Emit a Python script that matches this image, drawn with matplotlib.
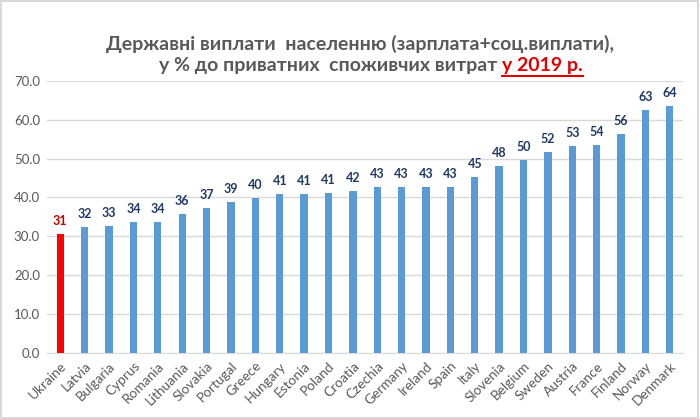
import matplotlib
matplotlib.use("Agg")
import matplotlib.pyplot as plt
from matplotlib.patches import Rectangle

plt.rcParams['font.family'] = ['Lato', 'DejaVu Sans']

countries = ["Ukraine", "Latvia", "Bulgaria", "Cyprus", "Romania", "Lithuania",
             "Slovakia", "Portugal", "Greece", "Hungary", "Estonia", "Poland",
             "Croatia", "Czechia", "Germany", "Ireland", "Spain", "Italy",
             "Slovenia", "Belgium", "Sweden", "Austria", "France", "Finland",
             "Norway", "Denmark"]
values = [30.6, 32.3, 32.6, 33.6, 33.6, 35.8, 37.3, 38.9, 39.9, 40.8, 40.8, 41.2,
          41.6, 42.6, 42.6, 42.6, 42.8, 45.2, 48.0, 49.7, 51.7, 53.3, 53.5, 56.3,
          62.6, 63.6]
yticks = [0, 10, 20, 30, 40, 50, 60, 70]

fig = plt.figure(figsize=(7, 4.19), dpi=100)
ax = fig.add_axes([0.067, 0.158, 0.909, 0.649])

colors = ['#ff0000' if c == "Ukraine" else '#5b9bd5' for c in countries]
x = list(range(len(countries)))
ax.bar(x, values, width=0.3, color=colors, zorder=3)

for i, v in enumerate(values):
    col = '#c00000' if countries[i] == "Ukraine" else '#1f3864'
    ax.text(i, v + 1.8, f"{v:.0f}", ha='center', va='bottom', fontsize=9,
            fontweight='bold', color=col)

ax.set_ylim(0, 70)
ax.set_xlim(-0.55, len(countries) - 0.45)
ax.set_yticks(yticks)
ax.set_yticklabels([f"{t:.1f}" for t in yticks], fontsize=9.5, color='#595959')
ax.set_xticks(x)
ax.set_xticklabels(countries, rotation=45, ha='right', rotation_mode='anchor',
                   fontsize=9.8, color='#595959')
ax.tick_params(length=0, pad=5)
ax.yaxis.grid(True, color='#d9d9d9', linewidth=1, zorder=0)
for s in ['top', 'right', 'left']:
    ax.spines[s].set_visible(False)
ax.spines['bottom'].set_color('#d9d9d9')

fig.text(0.514, 0.895, "Державні виплати  населенню (зарплата+соц.виплати),",
         ha='center', va='center', fontsize=14, fontweight='bold', color='#595959')

# second title line: grey part followed by red underlined year
renderer = fig.canvas.get_renderer()
t1 = fig.text(0.0, 0.843, "у % до приватних  споживчих витрат ",
              ha='left', va='center', fontsize=14, fontweight='bold', color='#595959')
t2 = fig.text(0.0, 0.843, "у 2019 р.", ha='left', va='center', fontsize=14,
              fontweight='bold', color='#e00000')
w1 = t1.get_window_extent(renderer).width / fig.bbox.width
w2 = t2.get_window_extent(renderer).width / fig.bbox.width
start = 0.53 - (w1 + w2) / 2
t1.set_x(start)
t2.set_x(start + w1)
fig.add_artist(plt.Line2D([start + w1, start + w1 + w2], [0.818, 0.818],
                          color='#e00000', linewidth=1.5, transform=fig.transFigure))

fig.add_artist(Rectangle((0.002, 0.003), 0.995, 0.994, fill=False,
                         edgecolor='#d9d9d9', linewidth=1.5,
                         transform=fig.transFigure))

fig.savefig("out.png", dpi=100)
